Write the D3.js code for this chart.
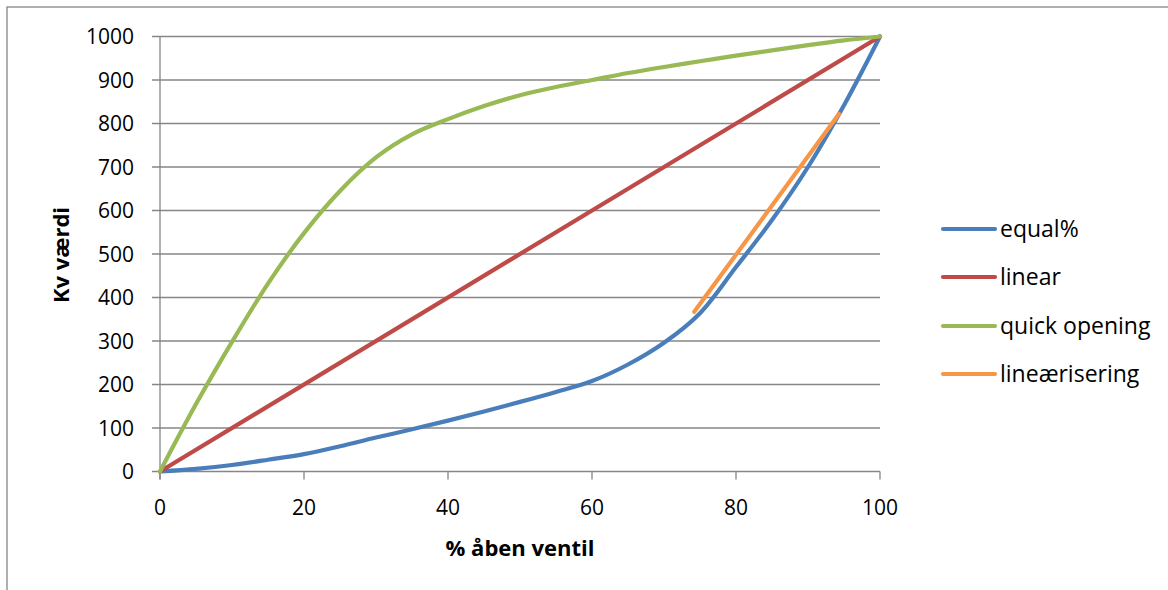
<!DOCTYPE html>
<html>
<head>
<meta charset="utf-8">
<script src="https://cdn.jsdelivr.net/npm/d3@7"></script>
<style>
  html, body { margin: 0; padding: 0; background: #fff; }
  svg { display: block; font-family: "Open Sans", "Liberation Sans", sans-serif; }
</style>
</head>
<body>
<svg id="chart" width="1168" height="590"></svg>
<script>
// Valve characteristic curves: Kv value vs. % valve opening
const seriesNames = ["equal%", "linear", "quick opening", "lineærisering"];
const seriesColors = ["#4a7ebb", "#be4b48", "#98b954", "#f79646"];

const equalPct = [[0,0],[5,6],[10,15],[15,27],[20,40],[25,58],[30,78],[35,97],[40,117],[45,138],[50,160],[55,183],[60,208],[65,246],[70,296],[75,364],[80,470],[85,578],[90,700],[95,842],[100,1000]];
const linear = [[0,0],[100,1000]];
const quickOpening = [[0,0],[5,155],[10,298],[15,432],[20,548],[25,645],[30,722],[35,775],[40,810],[45,840],[50,865],[55,884],[60,900],[65,916],[70,930],[75,943],[80,956],[85,968],[90,980],[95,991],[100,1000]];
const linearisering = [[74.2,367],[94.3,822]];

const xTicks = [0, 20, 40, 60, 80, 100];
const yTicks = [0, 100, 200, 300, 400, 500, 600, 700, 800, 900, 1000];

const svg = d3.select("#chart");
const grid = "#868686";

// Outer chart frame
svg.append("rect")
  .attr("x", 7).attr("y", 7).attr("width", 1200).attr("height", 620)
  .attr("fill", "none").attr("stroke", grid).attr("stroke-width", 1.3);

const x = d3.scaleLinear().domain([0, 100]).range([160, 880]);
const y = d3.scaleLinear().domain([0, 1000]).range([471.5, 36.5]);

// Horizontal gridlines with tick marks extending left of the axis
svg.append("g").selectAll("line").data(yTicks).join("line")
  .attr("x1", 152).attr("x2", x(100))
  .attr("y1", d => y(d)).attr("y2", d => y(d))
  .attr("stroke", grid).attr("stroke-width", 1.3);

// Vertical axis line
svg.append("line")
  .attr("x1", x(0)).attr("x2", x(0)).attr("y1", y(1000)).attr("y2", y(0) + 8)
  .attr("stroke", grid).attr("stroke-width", 1.3);

// X-axis tick marks
svg.append("g").selectAll("line").data(xTicks).join("line")
  .attr("x1", d => x(d)).attr("x2", d => x(d))
  .attr("y1", y(0)).attr("y2", y(0) + 8)
  .attr("stroke", grid).attr("stroke-width", 1.3);

// Tick labels
svg.append("g").selectAll("text").data(yTicks).join("text")
  .attr("x", 134).attr("y", d => y(d)).attr("dy", "0.36em")
  .attr("text-anchor", "end").attr("font-size", 21).attr("fill", "#000")
  .text(d => d);

svg.append("g").selectAll("text").data(xTicks).join("text")
  .attr("x", d => x(d)).attr("y", 507).attr("dy", "0.36em")
  .attr("text-anchor", "middle").attr("font-size", 21).attr("fill", "#000")
  .text(d => d);

// Axis titles
svg.append("text")
  .attr("x", 520).attr("y", 548).attr("dy", "0.36em")
  .attr("text-anchor", "middle").attr("font-size", 22).attr("font-weight", "bold")
  .text("% åben ventil");

svg.append("text")
  .attr("transform", "translate(61,255) rotate(-90)").attr("dy", "0.36em")
  .attr("text-anchor", "middle").attr("font-size", 22).attr("font-weight", "bold")
  .text("Kv værdi");

// Series lines
const line = d3.line().x(d => x(d[0])).y(d => y(d[1])).curve(d3.curveCatmullRom.alpha(0.5));
const allSeries = [equalPct, linear, quickOpening, linearisering];
allSeries.forEach((data, i) => {
  svg.append("path")
    .datum(data)
    .attr("d", line)
    .attr("fill", "none")
    .attr("stroke", seriesColors[i])
    .attr("stroke-width", 4.2)
    .attr("stroke-linecap", "round")
    .attr("stroke-linejoin", "round");
});

// Legend
const legendY = [229, 277, 326, 374];
const legend = svg.append("g");
seriesNames.forEach((name, i) => {
  legend.append("line")
    .attr("x1", 943).attr("x2", 995)
    .attr("y1", legendY[i]).attr("y2", legendY[i])
    .attr("stroke", seriesColors[i]).attr("stroke-width", 4.2)
    .attr("stroke-linecap", "round");
  legend.append("text")
    .attr("x", 1000).attr("y", legendY[i]).attr("dy", "0.36em")
    .attr("font-size", 23).attr("fill", "#000")
    .text(name);
});
</script>
</body>
</html>
